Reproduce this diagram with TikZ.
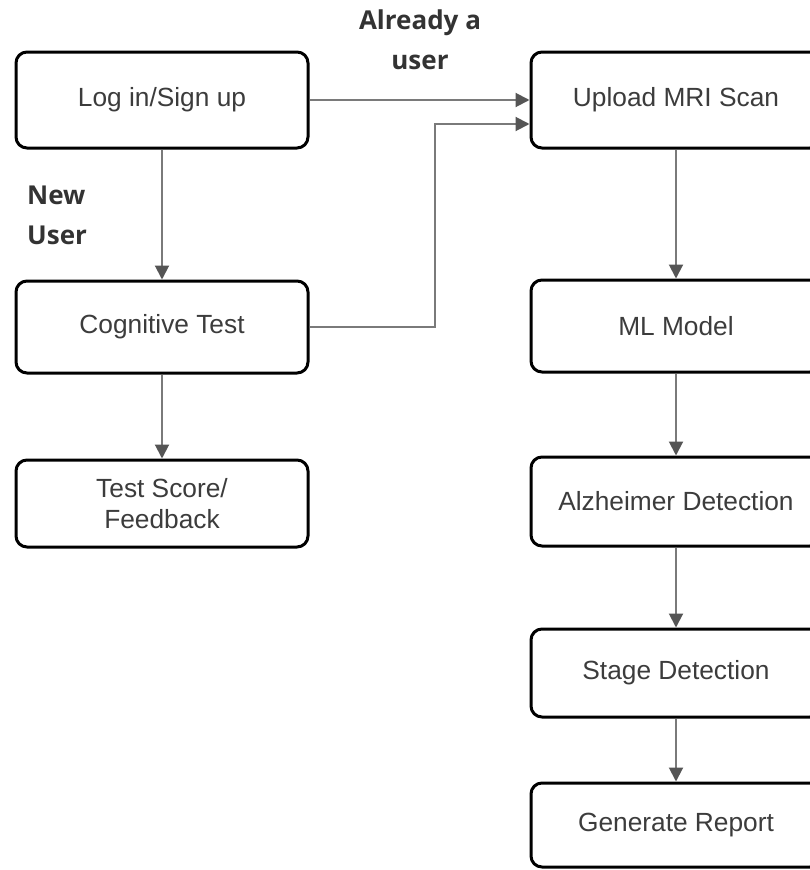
\documentclass[tikz,border=0pt]{standalone}
\usepackage{fontspec}
\setmainfont{Liberation Sans}
\newfontfamily\labelfont{Open Sans}
\usetikzlibrary{arrows.meta}
\definecolor{boxtext}{HTML}{3C3C3C}
\definecolor{linkgrey}{HTML}{7A7A7A}
\definecolor{headgrey}{HTML}{555555}
\definecolor{labeltext}{HTML}{333333}
\begin{document}
\begin{tikzpicture}[x=1pt,y=-1pt,
  stepbox/.style={draw=black, line width=3pt, rounded corners=11pt, fill=white,
    minimum width=292pt, inner sep=0pt, align=center, text=boxtext,
    font=\fontsize{26.3}{31}\selectfont},
  link/.style={draw=linkgrey, line width=2pt,
    -{Triangle[length=14pt,width=14pt,fill=headgrey,color=headgrey]}},
  tag/.style={text=labeltext, font=\labelfont\bfseries\fontsize{26}{40}\selectfont, inner sep=0pt}]
  \clip (0,0) rectangle (810,870);
  \fill[white] (0,0) rectangle (810,870);

  % left column
  \node[stepbox, minimum height=96pt] (login) at (162,100) {Log in/Sign up};
  \node[stepbox, minimum height=92pt] (cog) at (162,327) {Cognitive Test};
  \node[stepbox, minimum height=87pt] (score) at (162,503.5) {Test Score/\\Feedback};

  % right column
  \node[stepbox, minimum height=96pt, minimum width=290pt] (upload) at (676,100) {Upload MRI Scan};
  \node[stepbox, minimum height=92pt, minimum width=290pt] (ml) at (676,326) {ML Model};
  \node[stepbox, minimum height=89pt, minimum width=290pt] (alz) at (676,501.5) {Alzheimer Detection};
  \node[stepbox, minimum height=88pt, minimum width=290pt] (stage) at (676,673) {Stage Detection};
  \node[stepbox, minimum height=84pt, minimum width=290pt] (report) at (676,825) {Generate Report};

  % branch labels
  \node[tag, align=center] (already) at (420,40) {Already a\\user};
  \node[tag, align=left, anchor=west] (newuser) at (27,215) {New\\User};

  % connectors
  \coordinate (upin) at ([yshift=-24pt]upload.west);
  \coordinate (bend) at (435,327);
  \draw[link] (login.east) -- (upload.west);
  \draw[link] (cog.east) -- (bend) |- (upin);
  \draw[link] (login.south) -- (cog.north);
  \draw[link] (cog.south) -- (score.north);
  \draw[link] (upload.south) -- (ml.north);
  \draw[link] (ml.south) -- (alz.north);
  \draw[link] (alz.south) -- (stage.north);
  \draw[link] (stage.south) -- (report.north);
\end{tikzpicture}
\end{document}
